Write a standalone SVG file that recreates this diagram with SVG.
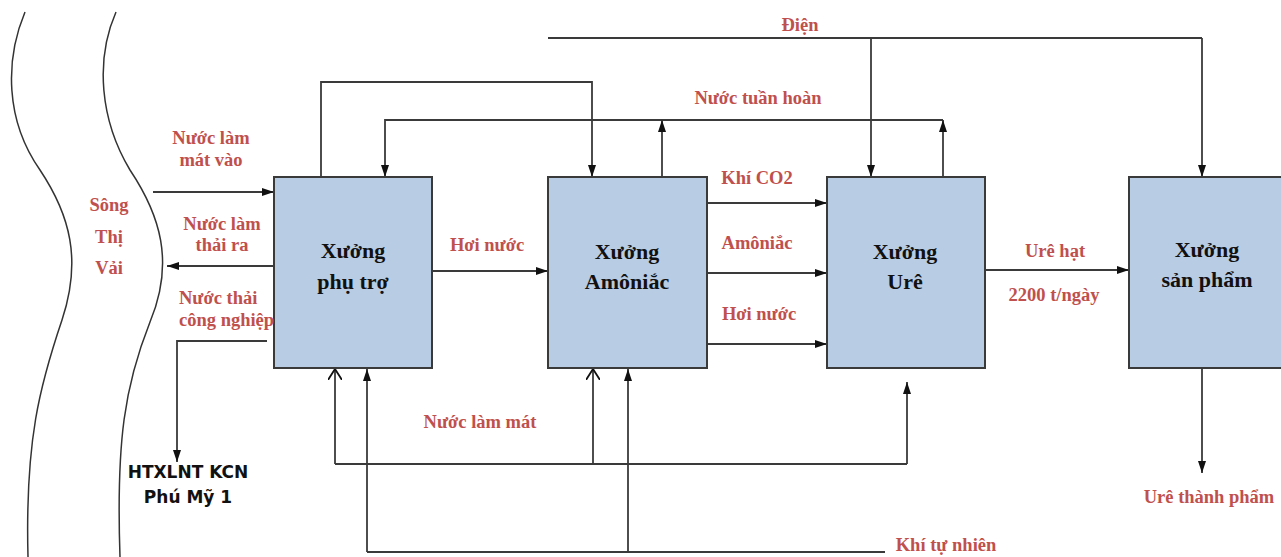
<svg xmlns="http://www.w3.org/2000/svg" width="1281" height="557" viewBox="0 0 1281 557">
<defs>
<marker id="ah" viewBox="0 0 12 8" refX="12" refY="4" markerWidth="12" markerHeight="8" markerUnits="userSpaceOnUse" orient="auto">
<path d="M0,0 L12,4 L0,8 Z" fill="#111"/>
</marker>
<marker id="oh" viewBox="0 0 12 14" refX="11" refY="7" markerWidth="12" markerHeight="14" markerUnits="userSpaceOnUse" orient="auto">
<path d="M0,0 L11,7 L0,14" fill="none" stroke="#111" stroke-width="1.8"/>
</marker>
</defs>
<style>
.box{fill:#b8cce4;stroke:#3a3a3a;stroke-width:2}
.ln{fill:none;stroke:#3a3a3a;stroke-width:1.8}
.a{marker-end:url(#ah)}
.o{marker-end:url(#oh)}
.river{fill:none;stroke:#333;stroke-width:1.5}
.lbl{font-family:"Liberation Serif","Times New Roman",serif;font-weight:bold;font-size:18.5px;fill:#c0504d}
.nt{font-family:"Liberation Serif","Times New Roman",serif;font-weight:bold;font-size:22px;fill:#111;text-anchor:middle}
.blk{font-family:"DejaVu Sans",Verdana,sans-serif;font-weight:bold;font-size:17px;fill:#111;text-anchor:middle}
</style>
<rect width="1281" height="557" fill="#fff"/>
<g id="river">
<path class="river" d="M25,12 C5,60 5,120 40,170 C70,215 82,260 62,320 C40,385 25,440 28,557"/>
<path class="river" d="M116,12 C95,60 100,120 130,170 C160,215 175,262 150,322 C125,385 116,440 120,557"/>
<text class="lbl" x="109" y="211" text-anchor="middle">Sông</text>
<text class="lbl" x="109" y="243" text-anchor="middle">Thị</text>
<text class="lbl" x="109" y="274" text-anchor="middle">Vải</text>
</g>
<g id="connectors">
<path class="ln" d="M548,38 H1202"/>
<path class="ln a" d="M871,38 V177"/>
<path class="ln a" d="M1202,38 V177"/>
<path class="ln a" d="M321,177 V82 H592 V177"/>
<path class="ln a" d="M943,120 H385 V177"/>
<path class="ln a" d="M662,177 V120"/>
<path class="ln a" d="M943,177 V120"/>
<path class="ln a" d="M153,192 H274"/>
<path class="ln a" d="M274,266 H167"/>
<path class="ln a" d="M267,341 H177 V462"/>
<path class="ln a" d="M432,271 H548"/>
<path class="ln a" d="M707,203 H827"/>
<path class="ln a" d="M707,273 H827"/>
<path class="ln a" d="M707,344 H827"/>
<path class="ln a" d="M985,270 H1129"/>
<path class="ln a" d="M1202,368 V473"/>
<path class="ln" d="M335,464 H907"/>
<path class="ln o" d="M335,464 V369"/>
<path class="ln o" d="M593,464 V369"/>
<path class="ln a" d="M907,464 V382"/>
<path class="ln" d="M367,552 H885"/>
<path class="ln a" d="M367,552 V369"/>
<path class="ln a" d="M628,552 V369"/>
</g>
<g id="phutro">
<rect class="box" x="274" y="177" width="158" height="191"/>
<text class="nt" x="353" y="258">Xưởng</text>
<text class="nt" x="353" y="289">phụ trợ</text>
</g>
<g id="amoniac">
<rect class="box" x="548" y="177" width="159" height="191"/>
<text class="nt" x="627" y="259">Xưởng</text>
<text class="nt" x="627" y="289">Amôniắc</text>
</g>
<g id="ure">
<rect class="box" x="827" y="177" width="158" height="191"/>
<text class="nt" x="905" y="259">Xưởng</text>
<text class="nt" x="905" y="289">Urê</text>
</g>
<g id="sanpham">
<rect class="box" x="1129" y="177" width="160" height="191"/>
<text class="nt" x="1207" y="257">Xưởng</text>
<text class="nt" x="1207" y="287">sản phẩm</text>
</g>
<g id="htxlnt">
<text class="blk" x="188" y="478">HTXLNT KCN</text>
<text class="blk" x="188" y="503">Phú Mỹ 1</text>
</g>
<g id="labels">
<text class="lbl" x="800" y="31" text-anchor="middle">Điện</text>
<text class="lbl" x="758" y="104" text-anchor="middle">Nước tuần hoàn</text>
<text class="lbl" x="211" y="144" text-anchor="middle">Nước làm</text>
<text class="lbl" x="211" y="166" text-anchor="middle">mát vào</text>
<text class="lbl" x="222" y="230" text-anchor="middle">Nước làm</text>
<text class="lbl" x="222" y="251" text-anchor="middle">thải ra</text>
<text class="lbl" x="179" y="304">Nước thải</text>
<text class="lbl" x="179" y="326">công nghiệp</text>
<text class="lbl" x="487" y="251" text-anchor="middle">Hơi nước</text>
<text class="lbl" x="757" y="184" text-anchor="middle">Khí CO2</text>
<text class="lbl" x="757" y="249" text-anchor="middle">Amôniắc</text>
<text class="lbl" x="759" y="320" text-anchor="middle">Hơi nước</text>
<text class="lbl" x="1055" y="257" text-anchor="middle">Urê hạt</text>
<text class="lbl" x="1054" y="301" text-anchor="middle">2200 t/ngày</text>
<text class="lbl" x="480" y="428" text-anchor="middle">Nước làm mát</text>
<text class="lbl" x="946" y="551" text-anchor="middle">Khí tự nhiên</text>
<text class="lbl" x="1209" y="503" text-anchor="middle">Urê thành phẩm</text>
</g>
</svg>
